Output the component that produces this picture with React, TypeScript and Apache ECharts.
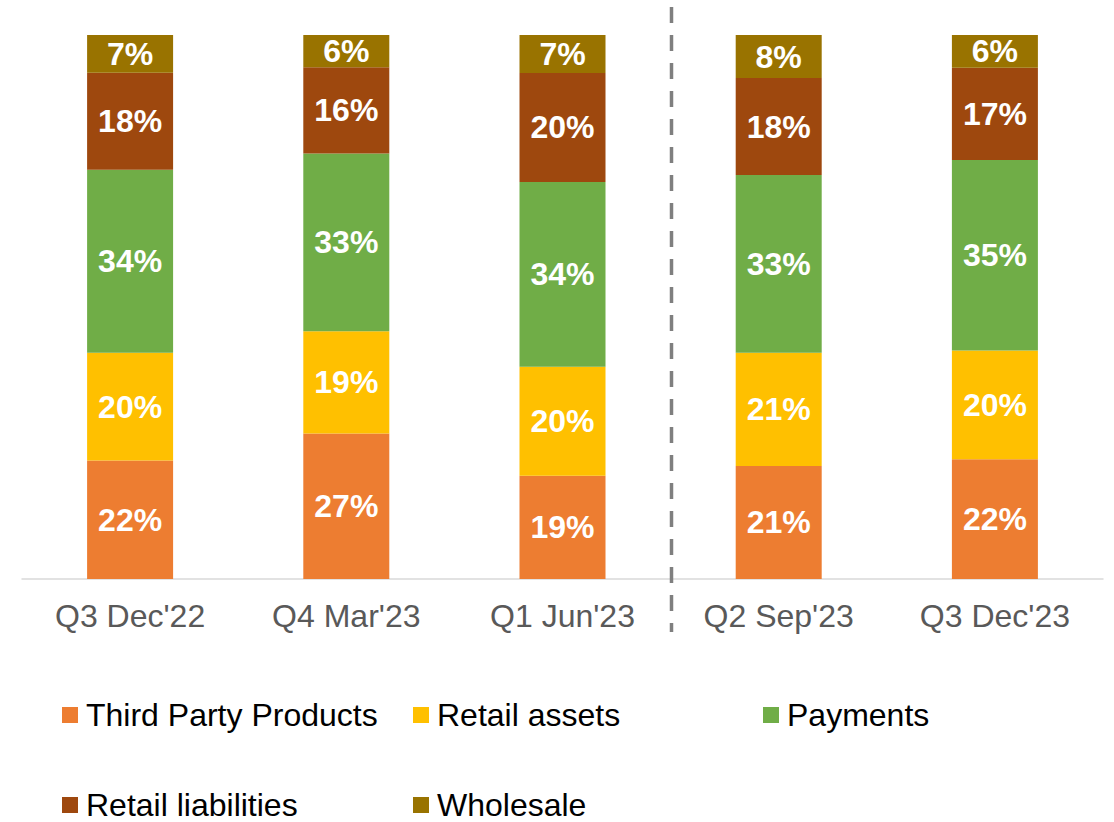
import React, { useEffect, useRef } from "react";
import * as echarts from "echarts";

const categories = ["Q3 Dec'22", "Q4 Mar'23", "Q1 Jun'23", "Q2 Sep'23", "Q3 Dec'23"];
const thirdParty = [22, 27, 19, 21, 22];
const retailAssets = [20, 19, 20, 21, 20];
const payments = [34, 33, 34, 33, 35];
const retailLiabilities = [18, 16, 20, 18, 17];
const wholesale = [7, 6, 7, 8, 6];

const seriesDefs = [
  { name: "Third Party Products", values: thirdParty, color: "#ED7D31" },
  { name: "Retail assets", values: retailAssets, color: "#FFC000" },
  { name: "Payments", values: payments, color: "#70AD47" },
  { name: "Retail liabilities", values: retailLiabilities, color: "#9E480E" },
  { name: "Wholesale", values: wholesale, color: "#997300" },
];

const legendPos = [
  { left: 62, top: 699 },
  { left: 413, top: 699 },
  { left: 763, top: 699 },
  { left: 62, top: 789 },
  { left: 413, top: 789 },
];

const FONT = "'Liberation Sans', Arial, sans-serif";

export default function App() {
  const ref = useRef<HTMLDivElement>(null);
  useEffect(() => {
    if (!ref.current) return;
    document.body.style.margin = "0";
    document.body.style.overflow = "hidden";
    const chart = echarts.init(ref.current, undefined, { renderer: "svg" });
    const totals = categories.map((_, i) =>
      seriesDefs.reduce((s, d) => s + d.values[i], 0)
    );
    chart.setOption({
      animation: false,
      backgroundColor: "#ffffff",
      grid: { left: 22, right: 11, top: 35, bottom: 243 },
      xAxis: {
        type: "category",
        data: categories,
        axisLine: { lineStyle: { color: "#D9D9D9", width: 1.5 } },
        axisTick: { show: false },
        axisLabel: { color: "#595959", fontSize: 32, fontFamily: FONT, margin: 21 },
      },
      yAxis: { type: "value", min: 0, max: 100, show: false, splitLine: { show: false } },
      legend: seriesDefs.map((d, i) => ({
        data: [d.name],
        left: legendPos[i].left,
        top: legendPos[i].top,
        icon: "rect",
        itemWidth: 16,
        itemHeight: 16,
        padding: 0,
        textStyle: { fontSize: 32, color: "#000000", fontFamily: FONT, padding: [0, 0, 0, 3] },
      })),
      series: seriesDefs.map((d) => ({
        name: d.name,
        type: "bar",
        stack: "total",
        barWidth: 86,
        itemStyle: { color: d.color },
        data: d.values.map((v, i) => (v / totals[i]) * 100),
        label: {
          show: true,
          position: "inside",
          color: "#ffffff",
          fontWeight: "bold",
          fontSize: 32,
          fontFamily: FONT,
          formatter: (p: any) => d.values[p.dataIndex] + "%",
        },
      })),
    });
    const a = chart.convertToPixel({ xAxisIndex: 0 }, categories[2]) as number;
    const b = chart.convertToPixel({ xAxisIndex: 0 }, categories[3]) as number;
    const x = Math.round((a + b) / 2) + 0.5;
    chart.setOption({
      graphic: [
        {
          type: "line",
          shape: { x1: x, y1: 7, x2: x, y2: 632 },
          style: { stroke: "#7F7F7F", lineWidth: 3.5, lineDash: [16, 12] },
          z: 10,
        },
      ],
    });
    return () => chart.dispose();
  }, []);
  return (
    <div
      ref={ref}
      style={{ position: "fixed", left: 0, top: 0, width: 1114, height: 822 }}
    />
  );
}
